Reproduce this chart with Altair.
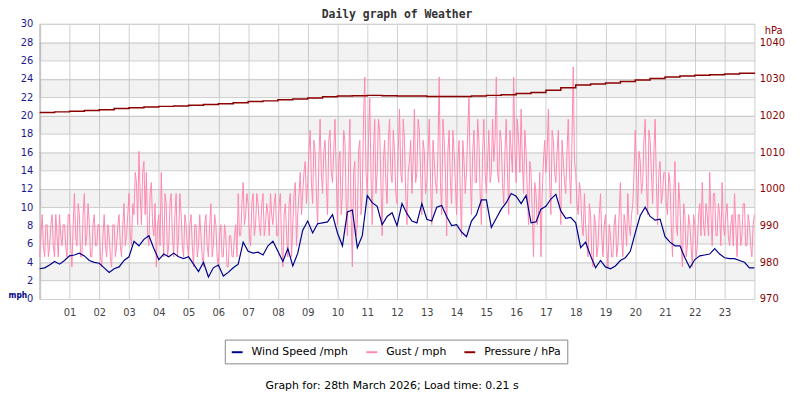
import altair as alt
import pandas as pd

# wind speed, read every 10 minutes from 00:00 to 24:00 (mph)
wind_mph = [
    3.3, 3.4, 3.7, 4.1, 3.8, 4.2,
    4.7, 4.8, 5.0, 4.7, 4.2, 4.0,
    3.9, 3.4, 2.9, 3.3, 3.5, 4.2,
    4.6, 6.3, 5.8, 6.5, 6.9, 5.5,
    4.3, 4.9, 4.6, 5.0, 4.6, 4.4,
    4.6, 3.8, 3.0, 4.0, 2.4, 3.4,
    3.7, 2.5, 2.9, 3.4, 3.8, 6.2,
    5.2, 5.0, 5.1, 4.8, 5.8, 6.3,
    5.2, 4.1, 5.5, 3.6, 5.0, 7.5,
    8.5, 7.2, 8.2, 8.3, 8.4, 9.2,
    7.2, 5.8, 9.5, 9.7, 5.6, 6.9,
    11.3, 10.5, 10.1, 8.1, 9.0, 9.4,
    8.0, 10.4, 9.3, 8.5, 8.3, 10.4,
    8.7, 8.5, 10.0, 10.2, 9.0, 8.0,
    8.1, 7.3, 6.8, 8.5, 9.2, 10.8,
    10.8, 7.8, 8.8, 9.8, 10.5, 11.5,
    11.2, 10.4, 11.3, 8.3, 8.4, 9.8,
    10.1, 10.9, 11.4, 9.6, 8.8, 8.9,
    8.3, 5.6, 6.2, 4.7, 3.4, 4.2,
    3.5, 3.3, 3.6, 4.2, 4.5, 5.2,
    7.2, 9.1, 10.0, 9.0, 8.6, 8.7,
    6.8, 6.2, 5.8, 5.8, 4.5, 3.4,
    4.3, 4.7, 4.8, 4.9, 5.5, 4.9,
    4.5, 4.4, 4.4, 4.2, 4.0, 3.4,
    3.4,
]

# gust, read on the 5-minute marks (mph)
gust_mph = [
    4.6, 9.2, 4.6, 8.1, 5.8, 9.2, 4.6, 6.9, 9.2, 5.8, 8.1, 4.6,
    9.2, 3.5, 11.5, 5.8, 9.2, 4.6, 11.5, 6.9, 8.1, 4.6, 9.2, 5.8,
    8.1, 3.5, 9.2, 4.6, 6.9, 3.5, 8.1, 5.8, 9.2, 4.6, 10.4, 6.9,
    11.5, 5.8, 9.2, 12.7, 16.1, 8.1, 15.0, 13.8, 5.8, 12.7, 6.9, 3.5,
    9.2, 13.8, 4.6, 10.4, 5.8, 11.5, 4.6, 11.5, 6.9, 9.2, 4.6, 8.1,
    4.6, 9.2, 3.5, 8.1, 5.8, 6.9, 3.5, 9.2, 4.6, 10.4, 5.8, 8.1,
    3.5, 8.1, 4.6, 6.9, 3.5, 6.9, 4.6, 8.1, 11.5, 6.9, 12.7, 9.2,
    10.4, 5.8, 11.5, 8.1, 10.4, 6.9, 11.5, 8.1, 9.2, 11.5, 8.1, 11.5,
    6.9, 11.5, 3.5, 10.4, 4.6, 11.5, 8.1, 12.7, 9.2, 13.8, 11.5, 15.0,
    12.7, 18.4, 10.4, 16.1, 8.1, 19.6, 11.5, 17.3, 9.2, 18.4, 12.7, 19.6,
    8.1, 16.1, 11.5, 17.3, 6.9, 19.6, 3.5, 15.0, 8.1, 17.3, 11.5, 24.2,
    11.5, 21.9, 8.1, 19.6, 13.8, 18.4, 6.9, 17.3, 10.4, 19.6, 12.7, 16.1,
    10.4, 20.7, 12.7, 17.3, 8.1, 15.0, 11.5, 20.7, 13.8, 18.4, 9.2, 16.1,
    12.7, 19.6, 8.1, 15.0, 11.5, 24.2, 9.2, 17.3, 6.9, 18.4, 10.4, 16.1,
    9.2, 17.3, 6.9, 15.0, 13.8, 21.9, 9.2, 18.4, 12.7, 17.3, 8.1, 19.6,
    11.5, 18.4, 13.8, 15.0, 24.2, 12.7, 17.3, 10.4, 19.6, 9.2, 16.1, 24.2,
    12.7, 17.3, 20.7, 11.5, 16.1, 8.1, 13.8, 4.6, 11.5, 9.2, 4.6, 15.0,
    13.8, 20.7, 9.2, 17.3, 12.7, 18.4, 8.1, 15.0, 11.5, 19.6, 10.4, 25.3,
    13.8, 9.2, 11.5, 6.9, 8.1, 4.6, 9.2, 3.5, 8.1, 5.8, 11.5, 4.6,
    9.2, 3.5, 6.9, 4.6, 9.2, 5.8, 12.7, 4.6, 8.1, 11.5, 6.9, 10.4,
    18.4, 9.2, 15.0, 12.7, 19.6, 9.2, 17.3, 10.4, 19.6, 8.1, 15.0, 11.5,
    13.8, 9.2, 12.7, 4.6, 15.0, 6.9, 10.4, 3.5, 9.2, 5.8, 8.1, 3.5,
    8.1, 5.8, 10.4, 12.7, 6.9, 9.2, 13.8, 5.8, 11.5, 6.9, 9.2, 12.7,
    6.9, 10.4, 5.8, 9.2, 11.5, 4.6, 9.2, 6.9, 10.4, 5.8, 8.1, 4.6,
    9.2,
]

# gust, read half way between the 5-minute marks (mph)
gust_mid_mph = [
    6.9, 5.8, 8.1, 4.6, 8.1, 5.8, 9.2, 4.6, 6.9, 8.1, 5.8, 9.2,
    5.8, 8.1, 6.9, 10.4, 4.6, 9.2, 5.8, 10.4, 4.6, 8.1, 5.8, 8.1,
    4.6, 6.9, 5.8, 8.1, 4.6, 8.1, 4.6, 8.1, 5.8, 8.1, 5.8, 9.2,
    6.9, 10.4, 13.8, 8.1, 11.5, 13.8, 9.2, 6.9, 11.5, 8.1, 10.4, 8.1,
    5.8, 8.1, 11.5, 4.6, 10.4, 6.9, 9.2, 4.6, 11.5, 5.8, 9.2, 5.8,
    8.1, 5.8, 8.1, 4.6, 9.2, 4.6, 8.1, 5.8, 8.1, 4.6, 9.2, 4.6,
    6.9, 4.6, 8.1, 3.5, 6.9, 4.6, 6.9, 4.6, 6.9, 10.4, 8.1, 11.5,
    6.9, 10.4, 6.9, 11.5, 8.1, 10.4, 6.9, 10.4, 6.9, 9.2, 10.4, 6.9,
    10.4, 5.8, 9.2, 6.9, 10.4, 4.6, 11.5, 5.8, 11.5, 9.2, 13.8, 10.4,
    16.1, 12.7, 17.3, 11.5, 15.0, 13.8, 16.1, 12.7, 17.3, 13.8, 16.1, 13.8,
    15.0, 9.2, 18.4, 10.4, 15.0, 9.2, 13.8, 6.9, 16.1, 9.2, 19.6, 13.8,
    17.3, 13.8, 16.1, 11.5, 19.6, 12.7, 15.0, 12.7, 17.3, 13.8, 18.4, 11.5,
    16.1, 13.8, 19.6, 11.5, 13.8, 17.3, 15.0, 12.7, 19.6, 13.8, 17.3, 11.5,
    16.1, 12.7, 17.3, 12.7, 16.1, 12.7, 19.6, 13.8, 16.1, 12.7, 18.4, 12.7,
    15.0, 11.5, 17.3, 11.5, 18.4, 13.8, 16.1, 12.7, 19.6, 11.5, 16.1, 13.8,
    15.0, 12.7, 19.6, 17.3, 13.8, 18.4, 12.7, 16.1, 13.8, 18.4, 13.8, 16.1,
    19.6, 13.8, 15.0, 18.4, 11.5, 15.0, 9.2, 12.7, 8.1, 13.8, 11.5, 17.3,
    16.1, 12.7, 18.4, 13.8, 16.1, 11.5, 17.3, 12.7, 16.1, 13.8, 17.3, 15.0,
    10.4, 12.7, 8.1, 11.5, 5.8, 10.4, 4.6, 9.2, 4.6, 9.2, 6.9, 8.1,
    5.8, 8.1, 4.6, 8.1, 4.6, 9.2, 6.9, 9.2, 5.8, 8.1, 9.2, 13.8,
    13.8, 16.1, 11.5, 17.3, 12.7, 18.4, 13.8, 16.1, 12.7, 13.8, 10.4, 13.8,
    10.4, 13.8, 8.1, 11.5, 8.1, 12.7, 5.8, 10.4, 4.6, 9.2, 5.8, 9.2,
    4.6, 9.2, 6.9, 8.1, 10.4, 6.9, 9.2, 11.5, 6.9, 10.4, 5.8, 8.1,
    9.2, 6.9, 8.1, 5.8, 8.1, 9.2, 5.8, 10.4, 5.8, 9.2, 5.8, 8.1,
]

# pressure, read every half hour (hPa)
pressure_hpa = [
    1020.8, 1021.0, 1021.2, 1021.4, 1021.6, 1021.9, 1022.1, 1022.3,
    1022.5, 1022.6, 1022.8, 1023.0, 1023.2, 1023.5, 1023.8, 1024.0,
    1024.3, 1024.5, 1024.8, 1025.1, 1025.3, 1025.4, 1025.5, 1025.4,
    1025.3, 1025.3, 1025.2, 1025.2, 1025.2, 1025.3, 1025.5, 1025.7,
    1026.0, 1026.3, 1026.9, 1027.6, 1028.3, 1028.6, 1028.9, 1029.3,
    1029.7, 1030.1, 1030.5, 1030.8, 1031.0, 1031.1, 1031.3, 1031.5,
    1031.7,
]

series = ['Wind Speed /mph', 'Gust / mph', 'Pressure / hPa']
colors = ['#00008b', '#ff88b0', '#8b0000']
band_starts = [2, 6, 10, 14, 18, 22, 26]
title = 'Daily graph of Weather'
footer = 'Graph for: 28th March 2026; Load time: 0.21 s'

wind_df = pd.DataFrame({'hour': [i / 6 for i in range(len(wind_mph))],
                        'mph': wind_mph, 'series': series[0]})
gust_df = pd.concat([
    pd.DataFrame({'hour': [i / 12 for i in range(len(gust_mph))], 'mph': gust_mph}),
    pd.DataFrame({'hour': [(i + 0.5) / 12 for i in range(len(gust_mid_mph))], 'mph': gust_mid_mph}),
]).sort_values('hour')
gust_df['series'] = series[1]
pres_df = pd.DataFrame({'hour': [i / 2 for i in range(len(pressure_hpa))],
                        'hpa': pressure_hpa, 'series': series[2]})
band_df = pd.DataFrame({'lo': band_starts, 'hi': [b + 2 for b in band_starts]})

hour_axis = alt.Axis(values=list(range(1, 24)), format='02d',
                     labelColor='#444444', labelFontSize=10,
                     labelPadding=9, labelOverlap=False, ticks=False,
                     domain=False, gridColor='#d0d0d0')
hour_scale = alt.Scale(domain=[0, 24], nice=False)


def x_enc():
    return alt.X('hour:Q', title=None, scale=hour_scale, axis=hour_axis)


mph_scale = alt.Scale(domain=[0, 30], nice=False)
mph_axis = alt.Axis(values=list(range(0, 31, 2)), labelColor='#1a1a8c',
                    labelFontSize=10, labelPadding=7, labelOverlap=False,
                    labelFlush=False, ticks=False,
                    domainColor='#c8c8c8', domainWidth=2, gridColor='#d0d0d0',
                    title='mph', titleAngle=0, titleX=-32, titleY=273,
                    titleAlign='left', titleBaseline='middle',
                    titleFont='DejaVu Sans Condensed',
                    titleFontWeight='bold', titleColor='#00007f', titleFontSize=8.5)

color_enc = alt.Color('series:N',
                      scale=alt.Scale(domain=series, range=colors),
                      legend=alt.Legend(orient='none', legendX=187, legendY=319,
                                        direction='horizontal', title=None,
                                        strokeColor='#888888', fillColor='white',
                                        padding=6, symbolType='stroke',
                                        symbolStrokeWidth=2, symbolSize=120,
                                        labelFont='DejaVu Sans', labelFontSize=11,
                                        labelColor='black', columnPadding=14,
                                        labelOffset=8))

bands = alt.Chart(band_df).mark_rect(color='black', opacity=0.05).encode(
    x=alt.value(0), x2=alt.value(722),
    y=alt.Y('lo:Q', title='mph', scale=mph_scale, axis=mph_axis),
    y2='hi:Q'
)

gust = alt.Chart(gust_df).mark_line(strokeWidth=1).encode(
    x=x_enc(),
    y=alt.Y('mph:Q', title='mph', scale=mph_scale, axis=mph_axis),
    color=color_enc
)

wind = alt.Chart(wind_df).mark_line(strokeWidth=1.2).encode(
    x=x_enc(),
    y=alt.Y('mph:Q', title='mph', scale=mph_scale, axis=mph_axis),
    color=color_enc
)

head = alt.Chart(pd.DataFrame({'t': [title]})).mark_text(
    font='DejaVu Sans Mono', fontSize=11.5, fontWeight='bold', color='#333333',
    baseline='middle'
).encode(x=alt.value(361), y=alt.value(-9), text='t:N')

foot = alt.Chart(pd.DataFrame({'t': [footer]})).mark_text(
    font='DejaVu Sans', fontSize=11, color='black'
).encode(x=alt.value(356), y=alt.value(366), text='t:N')

pressure = alt.Chart(pres_df).mark_line(interpolate='step-after', strokeWidth=1.5).encode(
    x=x_enc(),
    y=alt.Y('hpa:Q',
            title='hPa',
            scale=alt.Scale(domain=[970, 1045], nice=False),
            axis=alt.Axis(orient='right', values=list(range(970, 1041, 10)),
                          format='d', labelColor='#8b0000', labelFontSize=10,
                          labelPadding=5, labelOverlap=False, labelFlush=False,
                          ticks=False, domain=False, grid=False,
                          title='hPa', titleAngle=0, titleX=19, titleY=7,
                          titleAlign='center', titleBaseline='middle',
                          titleFontWeight='normal', titleColor='#8b0000',
                          titleFontSize=10)),
    color=color_enc
)

mph_layer = alt.layer(bands, gust, wind, head, foot)

chart = alt.layer(mph_layer, pressure).resolve_scale(
    y='independent'
).properties(
    width=722,
    height=278,
    padding={'left': 32, 'top': 14, 'right': 38, 'bottom': 96},
    autosize=alt.AutoSizeParams(type='none'),
    background='white'
).configure_view(
    stroke='#cccccc'
).configure_axis(
    labelFont='DejaVu Sans', titleFont='DejaVu Sans', labelOverlap=False
)

chart.save('out.html', embed_options={'renderer': 'svg', 'actions': False})
